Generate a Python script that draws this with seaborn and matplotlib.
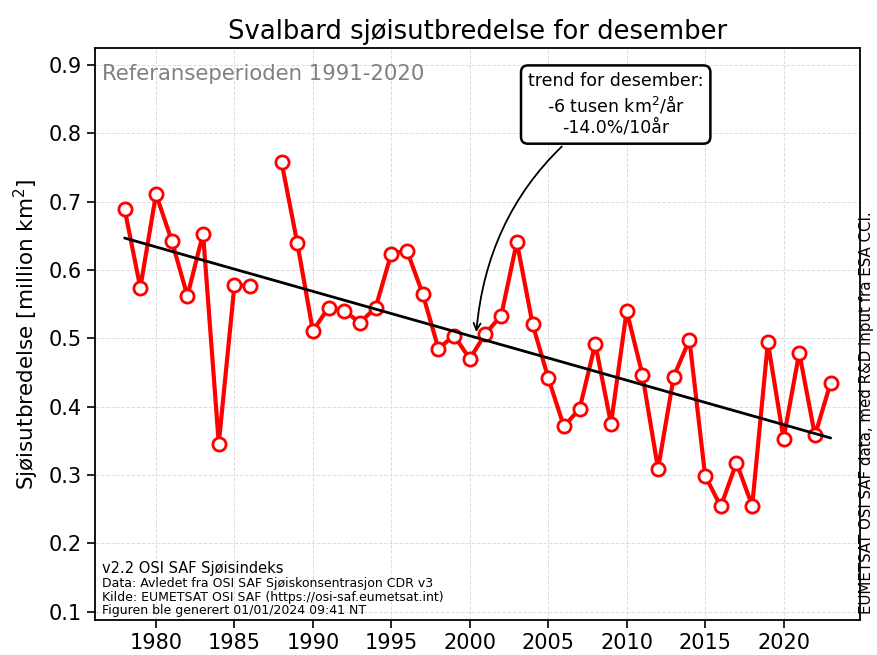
import matplotlib
matplotlib.use("Agg")
import matplotlib.pyplot as plt
import seaborn as sns
import numpy as np
import pandas as pd

years = [1978, 1979, 1980, 1981, 1982, 1983, 1984, 1985, 1986, 1987,
         1988, 1989, 1990, 1991, 1992, 1993, 1994, 1995, 1996, 1997,
         1998, 1999, 2000, 2001, 2002, 2003, 2004, 2005, 2006, 2007,
         2008, 2009, 2010, 2011, 2012, 2013, 2014, 2015, 2016, 2017,
         2018, 2019, 2020, 2021, 2022, 2023]
extent = [0.689, 0.574, 0.711, 0.643, 0.562, 0.653, 0.346, 0.578, 0.577, np.nan,
          0.758, 0.640, 0.511, 0.545, 0.540, 0.523, 0.545, 0.624, 0.628, 0.565,
          0.485, 0.504, 0.470, 0.507, 0.533, 0.641, 0.521, 0.442, 0.371, 0.397,
          0.492, 0.375, 0.540, 0.447, 0.309, 0.444, 0.498, 0.299, 0.254, 0.318,
          0.255, 0.494, 0.353, 0.479, 0.358, 0.435]

df = pd.DataFrame({"year": years, "extent": extent})

sns.set_style("ticks")
plt.rcParams['font.family'] = ['DejaVu Sans']
for key in ["text.color", "axes.labelcolor", "xtick.color", "ytick.color", "axes.edgecolor"]:
    plt.rcParams[key] = "black"

fig, ax = plt.subplots(figsize=(8.78, 6.55), dpi=100)
fig.subplots_adjust(left=0.108, right=0.98, top=0.927, bottom=0.053)

ax.plot(df["year"], df["extent"], color="red", lw=3, marker="o", ms=9.5,
        markerfacecolor="white", markeredgecolor="red", markeredgewidth=2, zorder=3)

# trend line fitted to the data
ok = df["extent"].notna()
k, m = np.polyfit(df.loc[ok, "year"], df.loc[ok, "extent"], 1)
trend_x = np.array([df["year"].min(), df["year"].max()])
sns.lineplot(x=trend_x, y=k * trend_x + m, color="black", lw=2, ax=ax, zorder=4)

ax.set_xlim(1976.1, 2024.9)
ax.set_ylim(0.0875, 0.925)
ax.set_yticks(np.arange(0.1, 0.91, 0.1))
ax.set_xticks(range(1980, 2021, 5))
ax.grid(True, color="#dddddd", ls="--", lw=0.7)
ax.tick_params(labelsize=15, length=6, width=1.2)
for s in ax.spines.values():
    s.set_linewidth(1.3)

ax.set_title("Svalbard sjøisutbredelse for desember", fontsize=18.6)
ax.set_ylabel("Sjøisutbredelse [million km$^2$]", fontsize=15.5, labelpad=5)

ax.text(0.01, 0.972, "Referanseperioden 1991-2020", transform=ax.transAxes,
        fontsize=15.3, color="gray", va="top", ha="left")

ax.annotate("trend for desember:\n-6 tusen km$^2$/år\n-14.0%/10år",
            xy=(2000.4, 0.505), xytext=(2009.3, 0.842),
            fontsize=12.5, ha="center", va="center",
            bbox=dict(boxstyle="round,pad=0.4", fc="white", ec="black", lw=1.8),
            arrowprops=dict(arrowstyle="->", color="black", lw=1.3,
                            connectionstyle="arc3,rad=0.25"))

ax.text(0.01, 0.077, "v2.2 OSI SAF Sjøisindeks", transform=ax.transAxes,
        fontsize=10.5, va="bottom", ha="left")
ax.text(0.01, 0.005,
        "Data: Avledet fra OSI SAF Sjøiskonsentrasjon CDR v3\n"
        "Kilde: EUMETSAT OSI SAF (https://osi-saf.eumetsat.int)\n"
        "Figuren ble generert 01/01/2024 09:41 NT",
        transform=ax.transAxes, fontsize=9, va="bottom", ha="left", linespacing=1.05)

fig.text(0.995, 0.062, "EUMETSAT OSI SAF data, med R&D input fra ESA CCI.",
         rotation=90, fontsize=10.8, ha="right", va="bottom")

fig.savefig("out.png", dpi=100)
